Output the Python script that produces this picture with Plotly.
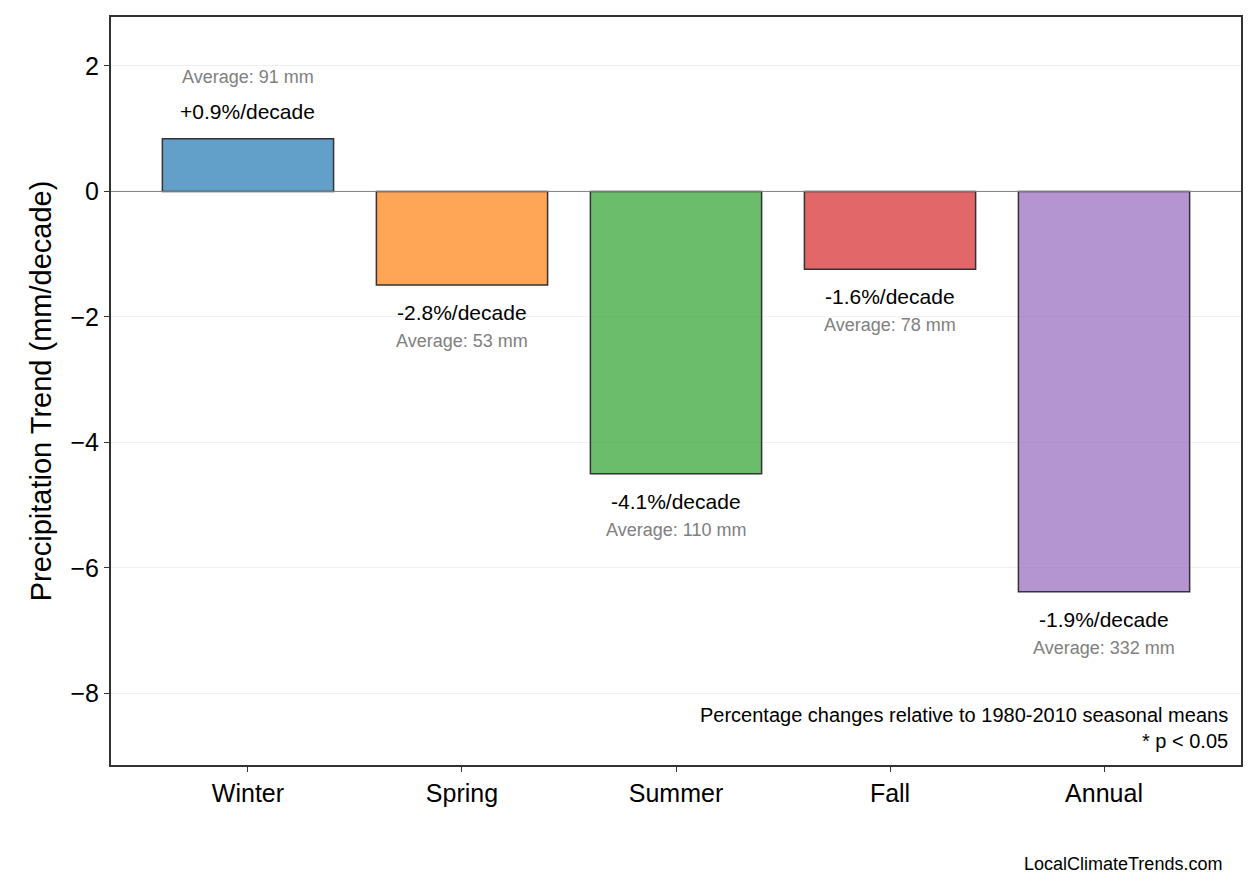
import plotly.graph_objects as go

SEASONS = ['Winter', 'Spring', 'Summer', 'Fall', 'Annual']
TRENDS = [0.84, -1.49, -4.5, -1.24, -6.38]
PCT_LABELS = ['+0.9%/decade', '-2.8%/decade', '-4.1%/decade', '-1.6%/decade', '-1.9%/decade']
AVG_LABELS = ['Average: 91 mm', 'Average: 53 mm', 'Average: 110 mm', 'Average: 78 mm', 'Average: 332 mm']
COLORS = ['rgba(31,119,180,0.7)', 'rgba(255,127,14,0.7)', 'rgba(44,160,44,0.7)',
          'rgba(214,39,40,0.7)', 'rgba(148,103,189,0.7)']

FONT = 'Liberation Sans, Arial, sans-serif'

fig = go.Figure()
fig.add_trace(go.Bar(
	x=SEASONS, y=TRENDS, width=0.8,
	marker=dict(color=COLORS, line=dict(color='#333', width=1.5)),
	showlegend=False,
))

# trend / average labels above positive bars, below negative ones
for s, v, pct, avg in zip(SEASONS, TRENDS, PCT_LABELS, AVG_LABELS):
	if v >= 0:
		fig.add_annotation(x=s, y=v, text=pct, showarrow=False, yanchor='bottom', yshift=14,
			font=dict(size=21, color='black', family=FONT))
		fig.add_annotation(x=s, y=v, text=avg, showarrow=False, yanchor='bottom', yshift=50,
			font=dict(size=18, color='gray', family=FONT))
	else:
		fig.add_annotation(x=s, y=v, text=pct, showarrow=False, yanchor='top', yshift=-14,
			font=dict(size=21, color='black', family=FONT))
		fig.add_annotation(x=s, y=v, text=avg, showarrow=False, yanchor='top', yshift=-44,
			font=dict(size=18, color='gray', family=FONT))

fig.add_annotation(xref='paper', yref='paper', x=0.99, y=0.015, xanchor='right', yanchor='bottom',
	text='Percentage changes relative to 1980-2010 seasonal means<br>* p < 0.05',
	align='right', showarrow=False, font=dict(size=20, color='black', family=FONT))
fig.add_annotation(xref='paper', yref='paper', x=0.985, y=-0.133, xanchor='right', yanchor='middle',
	text='LocalClimateTrends.com', showarrow=False, font=dict(size=18, color='black', family=FONT))

fig.add_hline(y=0, line=dict(color='gray', width=1))

fig.update_layout(
	width=1242, height=877,
	margin=dict(l=103, r=7, t=7, b=120),
	plot_bgcolor='white', paper_bgcolor='white',
	font=dict(family=FONT, color='black'),
)
fig.update_xaxes(range=[-0.64, 4.64], showline=True, mirror=True, linecolor='#333', linewidth=2,
	ticks='outside', ticklen=5, tickcolor='#333', tickfont=dict(size=25), showgrid=False)
fig.update_yaxes(range=[-9.14, 2.78], showline=True, mirror=True, linecolor='#333', linewidth=2,
	ticks='outside', ticklen=5, tickcolor='#333', tickfont=dict(size=25),
	tickvals=[-8, -6, -4, -2, 0, 2], ticktext=['\u22128', '\u22126', '\u22124', '\u22122', '0', '2'],
	gridcolor='rgba(0,0,0,0.06)', zeroline=False,
	title=dict(text='Precipitation Trend (mm/decade)', font=dict(size=29), standoff=10))

fig.write_html('out.html')
